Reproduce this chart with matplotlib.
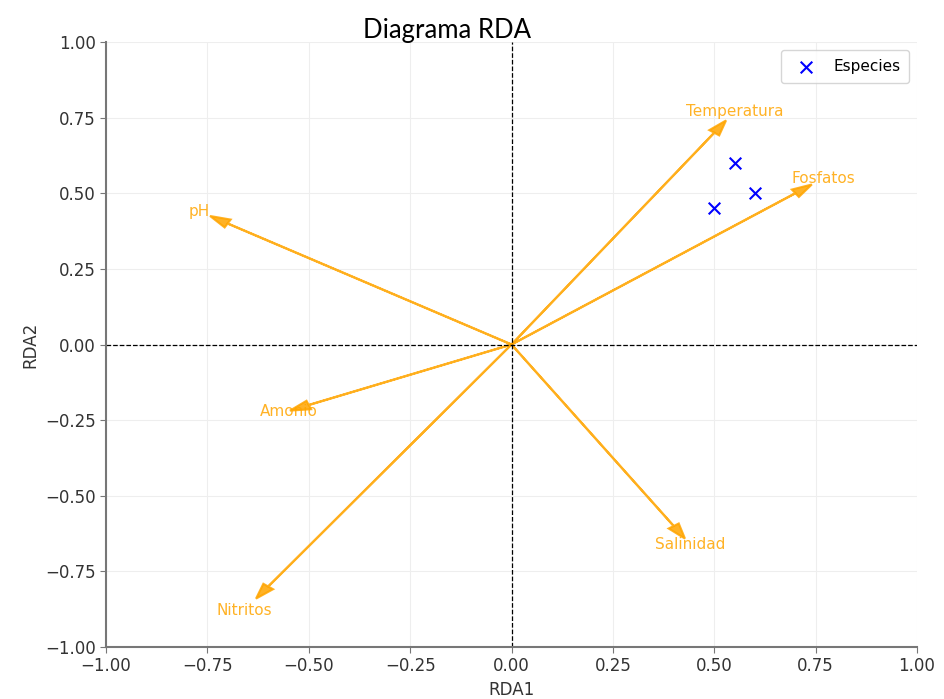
import matplotlib
matplotlib.use('Agg')
import matplotlib.pyplot as plt
import numpy as np

# environmental vectors
variables = ['Temperatura', 'Salinidad', 'pH', 'Nitritos', 'Amonio', 'Fosfatos']
rda1 = [0.5, 0.4, -0.7, -0.6, -0.5, 0.7]
rda2 = [0.7, -0.6, 0.4, -0.8, -0.2, 0.5]

# species scores
species_x = [0.5, 0.55, 0.6]
species_y = [0.45, 0.6, 0.5]

plt.rcParams['font.family'] = ['DejaVu Sans']
plt.rcParams['font.size'] = 12
fig = plt.figure(figsize=(9.44, 6.99), dpi=100)
ax = fig.add_axes([0.1123, 0.0744, 0.8591, 0.8655])

for name, x, y in zip(variables, rda1, rda2):
    ax.arrow(0, 0, x, y, color='orange', alpha=0.85, head_width=0.03, head_length=0.05,
             linewidth=1.5)
    ax.text(x * 1.1, y * 1.1, name, color='orange', ha='center', va='center', fontsize=11, alpha=0.85)

ax.scatter(species_x, species_y, color='blue', marker='x', s=70, label='Especies', zorder=3)

ax.axhline(0, color='black', linestyle='--', linewidth=0.9)
ax.axvline(0, color='black', linestyle='--', linewidth=0.9)

ax.set_xlim(-1, 1)
ax.set_ylim(-1, 1)
ax.set_xticks(np.arange(-1, 1.01, 0.25))
ax.set_yticks(np.arange(-1, 1.01, 0.25))
ax.xaxis.set_major_formatter(matplotlib.ticker.StrMethodFormatter('{x:.2f}'))
ax.yaxis.set_major_formatter(matplotlib.ticker.StrMethodFormatter('{x:.2f}'))
ax.grid(True, color='#eeeeee', linewidth=0.8)
ax.set_axisbelow(True)
for s in ['top', 'right']:
    ax.spines[s].set_visible(False)
for s in ['left', 'bottom']:
    ax.spines[s].set_color('#777777')
    ax.spines[s].set_linewidth(1.5)
ax.tick_params(colors='#777777', labelcolor='#333333', labelsize=12, length=4)
ax.set_xlabel('RDA1', color='#333333', fontsize=12)
ax.set_ylabel('RDA2', color='#333333', fontsize=12)
ax.legend(loc='upper right', fontsize=11, borderpad=0.6)

fig.text(0.474, 0.957, 'Diagrama RDA', ha='center', va='center', fontsize=18.5, family='Lato')

fig.savefig('out.png', dpi=100)
